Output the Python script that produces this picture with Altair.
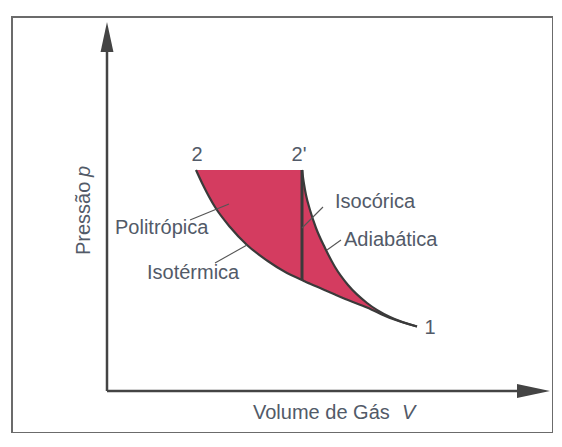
import altair as alt
import pandas as pd

# ---- data (V and p in arbitrary units) ----
V_grid = [0.90, 0.97, 1.09, 1.24, 1.41, 1.61, 1.81, 1.96, 1.98, 2.00, 2.04, 2.10,
          2.19, 2.29, 2.42, 2.61, 2.84, 3.11]
p_isotherm = [2.20, 2.05, 1.83, 1.63, 1.45, 1.295, 1.17, 1.10, 1.09, 1.08, 1.063, 1.037,
              0.998, 0.955, 0.90, 0.825, 0.72, 0.635]
p_upper = [2.20, 2.20, 2.20, 2.20, 2.20, 2.20, 2.20, 2.20, 2.06, 1.95, 1.80, 1.62,
           1.42, 1.23, 1.05, 0.87, 0.73, 0.635]
V_isochoric = 1.96

point_labels = ["2", "2'", "1"]
point_V = [0.91, 1.93, 3.24]
point_p = [2.35, 2.35, 0.62]

curve_labels = ["Politrópica", "Isotérmica", "Isocórica", "Adiabática"]
curve_V = [0.09, 0.41, 2.29, 2.38]
curve_p = [1.62, 1.17, 1.88, 1.50]

leader_V1 = [0.84, 1.09, 1.96, 2.21]
leader_p1 = [1.70, 1.27, 1.62, 1.40]
leader_V2 = [1.23, 1.41, 2.17, 2.35]
leader_p2 = [1.86, 1.45, 1.83, 1.50]

# ---- styling ----
FILL = "#d43c60"
LINE = "#3a3a3a"
TXT = "#525a68"
AX = "#444444"
FONT = "Liberation Sans"
FS = 20

xs = alt.Scale(domain=[-0.94, 4.47], nice=False, zero=False)
ys = alt.Scale(domain=[-0.43, 3.73], nice=False, zero=False)


def X(f):
    return alt.X(f, type="quantitative", scale=xs, axis=None)


def Y(f):
    return alt.Y(f, type="quantitative", scale=ys, axis=None)


curve = pd.DataFrame({"V": V_grid, "lower": p_isotherm, "upper": p_upper})
i_iso = V_grid.index(V_isochoric)
iso = pd.DataFrame({"V": [V_isochoric], "top": [p_upper[i_iso]], "bottom": [p_isotherm[i_iso]]})
pts = pd.DataFrame({"t": point_labels, "V": point_V, "p": point_p})
curv = pd.DataFrame({"t": curve_labels, "V": curve_V, "p": curve_p})
lead = pd.DataFrame({"V": leader_V1, "p": leader_p1, "V2": leader_V2, "p2": leader_p2})

area_left = alt.Chart(curve).transform_filter(alt.datum.V <= V_isochoric).mark_area(
    color=FILL, opacity=1, interpolate="monotone").encode(
    x=X("V"), y=Y("upper"), y2=alt.Y2("lower"))
area_right = alt.Chart(curve).transform_filter(alt.datum.V >= V_isochoric).mark_area(
    color=FILL, opacity=1, interpolate="monotone").encode(
    x=X("V"), y=Y("upper"), y2=alt.Y2("lower"))
isotherm = alt.Chart(curve).mark_line(color=LINE, strokeWidth=2.2, interpolate="monotone").encode(
    x=X("V"), y=Y("lower"), order="V:Q")
adiabatic = alt.Chart(curve).transform_filter(alt.datum.V >= V_isochoric).mark_line(
    color=LINE, strokeWidth=2.2, interpolate="monotone").encode(x=X("V"), y=Y("upper"), order="V:Q")
isochoric = alt.Chart(iso).mark_rule(color=LINE, strokeWidth=3).encode(
    x=X("V"), y=Y("top"), y2=alt.Y2("bottom"))
leaders = alt.Chart(lead).mark_rule(color="#555555", strokeWidth=1.1).encode(
    x=X("V"), y=Y("p"), x2=alt.X2("V2"), y2=alt.Y2("p2"))

ptxt = alt.Chart(pts).mark_text(font=FONT, fontSize=FS, color=TXT, align="center",
                                baseline="middle").encode(x=X("V"), y=Y("p"), text="t:N")
ctxt = alt.Chart(curv).mark_text(font=FONT, fontSize=FS, color=TXT, align="left",
                                 baseline="middle").encode(x=X("V"), y=Y("p"), text="t:N")

# axes (arrows)
axes_df = pd.DataFrame({"V": [0.01, 0.01], "p": [-0.01, -0.01], "V2": [4.12, 0.01], "p2": [-0.01, 3.40]})
axes = alt.Chart(axes_df).mark_rule(color=AX, strokeWidth=2.5).encode(
    x=X("V"), y=Y("p"), x2=alt.X2("V2"), y2=alt.Y2("p2"))
arr_up = alt.Chart(pd.DataFrame({"V": [0.01], "p": [3.53]})).mark_point(
    shape="M-0.43,1L0,-1L0.43,1Z", size=900, filled=True, color=AX, opacity=1).encode(
    x=X("V"), y=Y("p"))
arr_right = alt.Chart(pd.DataFrame({"V": [4.275], "p": [-0.01]})).mark_point(
    shape="M-1,-0.43L1,0L-1,0.43Z", size=1089, filled=True, color=AX, opacity=1).encode(
    x=X("V"), y=Y("p"))

# axis titles
ytitle = alt.Chart(pd.DataFrame({"V": [-0.22], "p": [1.35], "t": ["Pressão"]})).mark_text(
    font=FONT, fontSize=FS, color=TXT, angle=270, align="left", baseline="middle").encode(
    x=X("V"), y=Y("p"), text="t:N")
ytitle_p = alt.Chart(pd.DataFrame({"V": [-0.22], "p": [2.13], "t": ["p"]})).mark_text(
    font=FONT, fontSize=FS, color=TXT, angle=270, align="left", baseline="middle",
    fontStyle="italic").encode(x=X("V"), y=Y("p"), text="t:N")
xtitle = alt.Chart(pd.DataFrame({"V": [1.47], "p": [-0.23], "t": ["Volume de Gás"]})).mark_text(
    font=FONT, fontSize=FS, color=TXT, align="left", baseline="middle").encode(
    x=X("V"), y=Y("p"), text="t:N")
xtitle_v = alt.Chart(pd.DataFrame({"V": [2.96], "p": [-0.23], "t": ["V"]})).mark_text(
    font=FONT, fontSize=FS, color=TXT, align="left", baseline="middle",
    fontStyle="italic").encode(x=X("V"), y=Y("p"), text="t:N")

chart = alt.layer(
    area_left, area_right, isotherm, adiabatic, isochoric, leaders, ptxt, ctxt,
    axes, arr_up, arr_right, ytitle, ytitle_p, xtitle, xtitle_v
).properties(
    width=541, height=416, autosize="none",
    padding={"left": 4, "top": 9, "right": 0, "bottom": 0},
    background="white"
).configure_view(stroke="#6b6b6b", strokeWidth=2)

chart.save("out.html", embed_options={"renderer": "svg", "actions": False})
